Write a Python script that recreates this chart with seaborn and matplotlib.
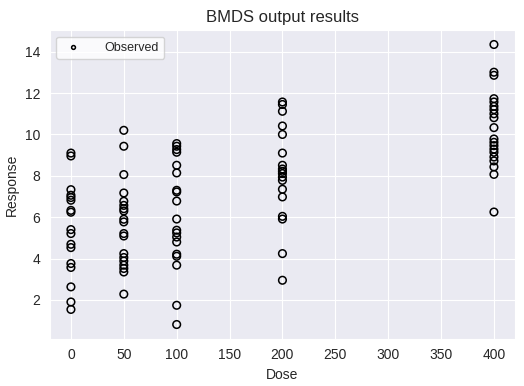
import pandas as pd
import seaborn as sns
import matplotlib.pyplot as plt

dose_0 = [9.10, 8.96, 7.33, 7.06, 6.95, 6.82, 6.33, 6.24, 5.40, 5.21, 4.69, 4.53,
          3.76, 3.57, 2.63, 1.90, 1.54]
dose_50 = [10.20, 9.43, 8.06, 7.17, 6.77, 6.57, 6.41, 6.30, 5.90, 5.77, 5.21, 5.09,
           4.24, 4.05, 3.88, 3.68, 3.52, 3.35, 2.28]
dose_100 = [9.56, 9.43, 9.27, 9.14, 8.51, 8.14, 7.30, 7.22, 6.78, 5.91, 5.37, 5.24,
            5.04, 4.80, 4.21, 4.11, 3.68, 1.74, 0.81]
dose_200 = [11.57, 11.45, 11.12, 10.41, 10.00, 9.10, 8.51, 8.33, 8.22, 8.11, 7.94,
            7.78, 7.35, 6.98, 6.04, 5.91, 4.24, 2.95]
dose_400 = [14.35, 13.01, 12.86, 11.73, 11.57, 11.36, 11.20, 11.00, 10.81, 10.33,
            9.78, 9.62, 9.46, 9.29, 9.14, 8.91, 8.72, 8.43, 8.07, 6.25]

groups = {0: dose_0, 50: dose_50, 100: dose_100, 200: dose_200, 400: dose_400}

# long format table
rows = []
for d, vals in groups.items():
    for v in vals:
        rows.append({'Dose': d, 'Response': v})
df = pd.DataFrame(rows)

sns.set_style("darkgrid")
plt.rcParams['font.family'] = ['Liberation Sans', 'DejaVu Sans']

fig, ax = plt.subplots(figsize=(5.24, 3.86), dpi=100)
sns.scatterplot(data=df, x='Dose', y='Response', ax=ax, marker='o',
                facecolors='none', edgecolor='black', linewidth=1.1, s=30,
                label='Observed')

ax.set_title('BMDS output results', fontsize=12)
ax.set_xlabel('Dose', fontsize=10)
ax.set_ylabel('Response', fontsize=10)
ax.set_xticks(range(0, 401, 50))
ax.set_yticks(range(2, 15, 2))
ax.tick_params(labelsize=10, colors='#262626')

leg = ax.legend(loc='upper left', fontsize=9, markerscale=0.5, frameon=True,
                facecolor='white', edgecolor='#cccccc', fancybox=True,
                handletextpad=1.5)

fig.subplots_adjust(left=0.095, right=0.983, top=0.921, bottom=0.123)
fig.savefig('out.png', dpi=100)
